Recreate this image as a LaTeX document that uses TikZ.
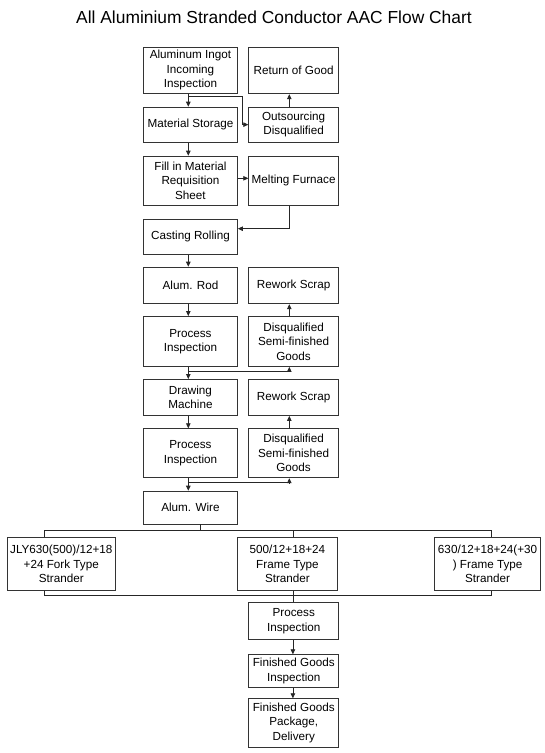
\documentclass[tikz,border=0pt]{standalone}
\usepackage{fontspec}
\setmainfont{Liberation Sans}
\usetikzlibrary{arrows.meta,calc}
\begin{document}
\begin{tikzpicture}[x=1pt,y=-1pt,
  box/.style={draw=black!80, line width=0.9pt, fill=white, inner sep=0pt, align=center,
    font=\fontsize{11.7}{14.5}\selectfont, anchor=north west},
  lbox/.style={box, minimum width=94pt},
  rbox/.style={box, minimum width=89.7pt},
  ln/.style={draw=black!85, line width=0.8pt},
  arr/.style={ln, -{Triangle[length=5pt,width=4.5pt]}}]
\useasboundingbox (0,0) rectangle (545,753);
\fill[white] (0,0) rectangle (545,753);

\node[font=\fontsize{17.4}{20}\selectfont, anchor=base] (title) at (274,23.3) {All Aluminium Stranded Conductor AAC Flow Chart};

\coordinate (colL) at (188.3,0);
\coordinate (colR) at (289.3,0);
\coordinate (stemW) at (200.7,0);
\coordinate (stemA) at (44.3,0);
\coordinate (stemB) at (292.9,0);
\coordinate (stemC) at (491.7,0);
\coordinate (busT) at (0,530);
\coordinate (busB) at (0,595);

% left column
\node[lbox, minimum height=46.6pt] (ingot) at (143,46.7) {Aluminum Ingot\\Incoming\\Inspection};
\node[lbox, minimum height=35pt] (stor) at (143,106.7) {Material Storage};
\node[lbox, minimum height=49.3pt] (fill) at (143,155.7) {Fill in Material\\Requisition\\Sheet};
\node[lbox, minimum height=35.5pt] (cast) at (143,218.5) {Casting Rolling};
\node[lbox, minimum height=36.6pt] (rod) at (143,266.7) {Alum. Rod};
\node[lbox, minimum height=50pt] (pi1) at (143,316) {Process\\Inspection};
\node[lbox, minimum height=36pt] (drw) at (143,379) {Drawing\\Machine};
\node[lbox, minimum height=49pt] (pi2) at (143,428.3) {Process\\Inspection};
\node[lbox, minimum height=32.8pt] (wire) at (143,490.7) {Alum. Wire};

% right column
\node[rbox, minimum height=46.6pt] (ret) at (248.3,46.7) {Return of Good};
\node[rbox, minimum height=35pt] (outs) at (248.3,106.7) {Outsourcing\\Disqualified};
\node[rbox, minimum height=49.3pt] (melt) at (248.3,155.7) {Melting Furnace};
\node[rbox, minimum height=36.6pt] (rw1) at (248.3,266.7) {Rework Scrap};
\node[rbox, minimum height=50pt] (dq1) at (248.3,316) {Disqualified\\Semi-finished\\Goods};
\node[rbox, minimum height=36pt] (rw2) at (248.3,379) {Rework Scrap};
\node[rbox, minimum height=49pt] (dq2) at (248.3,428.3) {Disqualified\\Semi-finished\\Goods};

% stranders
\node[box, minimum width=108.3pt, minimum height=52.7pt] (s1) at (6.7,537.3) {JLY630(500)/12+18\\+24 Fork Type\\Strander};
\node[box, minimum width=100.6pt, minimum height=52.7pt] (s2) at (236.7,537.3) {500/12+18+24\\Frame Type\\Strander};
\node[box, minimum width=105.7pt, minimum height=52.7pt] (s3) at (434.3,537.3) {630/12+18+24(+30\\) Frame Type\\Strander};

% bottom column
\node[rbox, minimum width=90pt, minimum height=37pt] (b1) at (248.3,602) {Process\\Inspection};
\node[rbox, minimum width=90pt, minimum height=32.4pt] (b2) at (248.3,654.3) {Finished Goods\\Inspection};
\node[rbox, minimum width=90pt, minimum height=48.4pt] (b3) at (248.3,698.3) {Finished Goods\\Package,\\Delivery};

% connectors
\draw[arr] (ingot.south -| colL) -- (stor.north -| colL);
\draw[arr] ($(ingot.south -| colL)+(0,1.7)$) -| ($(outs.west)+(-5.6,0)$) -- (outs.west);
\draw[arr] (outs.north -| colR) -- (ret.south -| colR);
\draw[arr] (stor.south -| colL) -- (fill.north -| colL);
\draw[arr] ($(fill.east)+(0,-2.5)$) -- ($(melt.west)+(0,-2.5)$);
\draw[arr] (melt.south -| colR) |- ($(cast.east)+(0,-8)$);
\draw[arr] (cast.south -| colL) -- (rod.north -| colL);
\draw[arr] (rod.south -| colL) -- (pi1.north -| colL);
\draw[arr] (pi1.south -| colL) -- (drw.north -| colL);
\draw[arr] ($(pi1.south -| colL)+(0,4)$) -| (dq1.south -| colR);
\draw[arr] (dq1.north -| colR) -- (rw1.south -| colR);
\draw[arr] (drw.south -| colL) -- (pi2.north -| colL);
\draw[arr] (pi2.south -| colL) -- (wire.north -| colL);
\draw[arr] ($(pi2.south -| colL)+(0,4.4)$) -| (dq2.south -| colR);
\draw[arr] (dq2.north -| colR) -- (rw2.south -| colR);

\draw[ln] (wire.south -| stemW) -- (stemW |- busT);
\draw[ln] (s1.north -| stemA) -- (stemA |- busT) -- (stemC |- busT) -- (s3.north -| stemC);
\draw[ln] (s2.north -| stemB) -- (stemB |- busT);
\draw[ln] (s1.south -| stemA) -- (stemA |- busB) -- (stemC |- busB) -- (s3.south -| stemC);
\draw[ln] (s2.south -| stemB) -- (b1.north -| stemB);
\draw[arr] (b1.south -| stemB) -- (b2.north -| stemB);
\draw[arr] (b2.south -| stemB) -- (b3.north -| stemB);
\end{tikzpicture}
\end{document}
